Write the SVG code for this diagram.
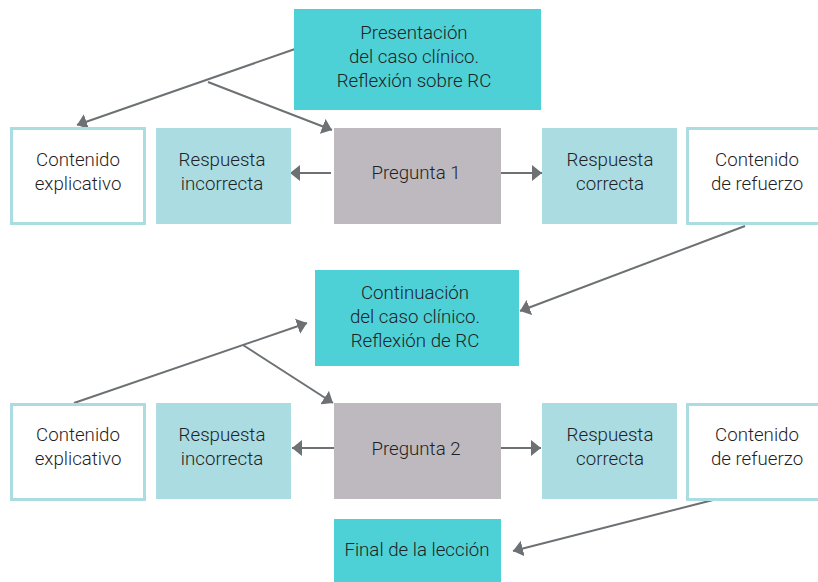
<svg xmlns="http://www.w3.org/2000/svg" width="818" height="582" viewBox="0 0 818 582">
<defs>
<style>
.t{font-family:Roboto,"Liberation Sans",sans-serif;font-weight:300;font-size:18.7px;fill:#1f2224;text-anchor:middle}
.teal{fill:#4dd1d6}
.lb{fill:#aadce2}
.gr{fill:#bdb9be}
.ol{fill:#fff;stroke:#aadce2;stroke-width:3}
.c{stroke:#6d7174;stroke-width:2;fill:none}
</style>
<marker id="ah" viewBox="0 0 10 16" refX="10" refY="8" markerWidth="10" markerHeight="16" markerUnits="userSpaceOnUse" orient="auto">
<path d="M0,0 L10,8 L0,16 Z" fill="#6d7174"/>
</marker>
</defs>
<rect width="818" height="582" fill="#fff"/>
<g id="connectors">
<line class="c" x1="295" y1="49" x2="77" y2="125" marker-end="url(#ah)"/>
<line class="c" x1="208" y1="82" x2="332" y2="130" marker-end="url(#ah)"/>
<line class="c" x1="331" y1="173" x2="290" y2="173" marker-end="url(#ah)"/>
<line class="c" x1="501" y1="173" x2="542" y2="173" marker-end="url(#ah)"/>
<line class="c" x1="745" y1="226" x2="520" y2="311" marker-end="url(#ah)"/>
<line class="c" x1="74" y1="403" x2="307" y2="323" marker-end="url(#ah)"/>
<line class="c" x1="243" y1="345" x2="333" y2="403" marker-end="url(#ah)"/>
<line class="c" x1="334" y1="448" x2="292" y2="448" marker-end="url(#ah)"/>
<line class="c" x1="500" y1="448" x2="541" y2="448" marker-end="url(#ah)"/>
<line class="c" x1="717" y1="499" x2="513" y2="551" marker-end="url(#ah)"/>
</g>
<g id="presentacion">
<rect class="teal" x="294" y="9" width="247" height="101"/>
<text class="t" x="414" y="39">Presentación</text>
<text class="t" x="414" y="63">del caso clínico.</text>
<text class="t" x="414" y="87">Reflexión sobre RC</text>
</g>
<g id="contenido-explicativo-1">
<rect class="ol" x="11.5" y="128.5" width="133" height="95"/>
<text class="t" x="78" y="166">Contenido</text>
<text class="t" x="78" y="190">explicativo</text>
</g>
<g id="respuesta-incorrecta-1">
<rect class="lb" x="156" y="128" width="135" height="96"/>
<text class="t" x="222" y="166">Respuesta</text>
<text class="t" x="222" y="190">incorrecta</text>
</g>
<g id="pregunta-1">
<rect class="gr" x="334" y="128" width="167" height="96"/>
<text class="t" x="416" y="179">Pregunta 1</text>
</g>
<g id="respuesta-correcta-1">
<rect class="lb" x="542" y="128" width="135" height="96"/>
<text class="t" x="610" y="166">Respuesta</text>
<text class="t" x="610" y="190">correcta</text>
</g>
<g id="contenido-refuerzo-1">
<rect class="ol" x="687.5" y="128.5" width="133" height="95"/>
<text class="t" x="757" y="166">Contenido</text>
<text class="t" x="757" y="190">de refuerzo</text>
</g>
<g id="continuacion">
<rect class="teal" x="315" y="270" width="204" height="96"/>
<text class="t" x="415" y="299">Continuación</text>
<text class="t" x="415" y="323">del caso clínico.</text>
<text class="t" x="415" y="347">Reflexión de RC</text>
</g>
<g id="contenido-explicativo-2">
<rect class="ol" x="11.5" y="404.5" width="133" height="95"/>
<text class="t" x="78" y="441">Contenido</text>
<text class="t" x="78" y="465">explicativo</text>
</g>
<g id="respuesta-incorrecta-2">
<rect class="lb" x="156" y="403" width="135" height="96"/>
<text class="t" x="222" y="441">Respuesta</text>
<text class="t" x="222" y="465">incorrecta</text>
</g>
<g id="pregunta-2">
<rect class="gr" x="334" y="403" width="167" height="96"/>
<text class="t" x="416" y="455">Pregunta 2</text>
</g>
<g id="respuesta-correcta-2">
<rect class="lb" x="542" y="403" width="135" height="96"/>
<text class="t" x="610" y="441">Respuesta</text>
<text class="t" x="610" y="465">correcta</text>
</g>
<g id="contenido-refuerzo-2">
<rect class="ol" x="687.5" y="404.5" width="133" height="95"/>
<text class="t" x="757" y="441">Contenido</text>
<text class="t" x="757" y="465">de refuerzo</text>
</g>
<g id="final">
<rect class="teal" x="334" y="519" width="167" height="63"/>
<text class="t" x="417" y="556">Final de la lección</text>
</g>
</svg>
